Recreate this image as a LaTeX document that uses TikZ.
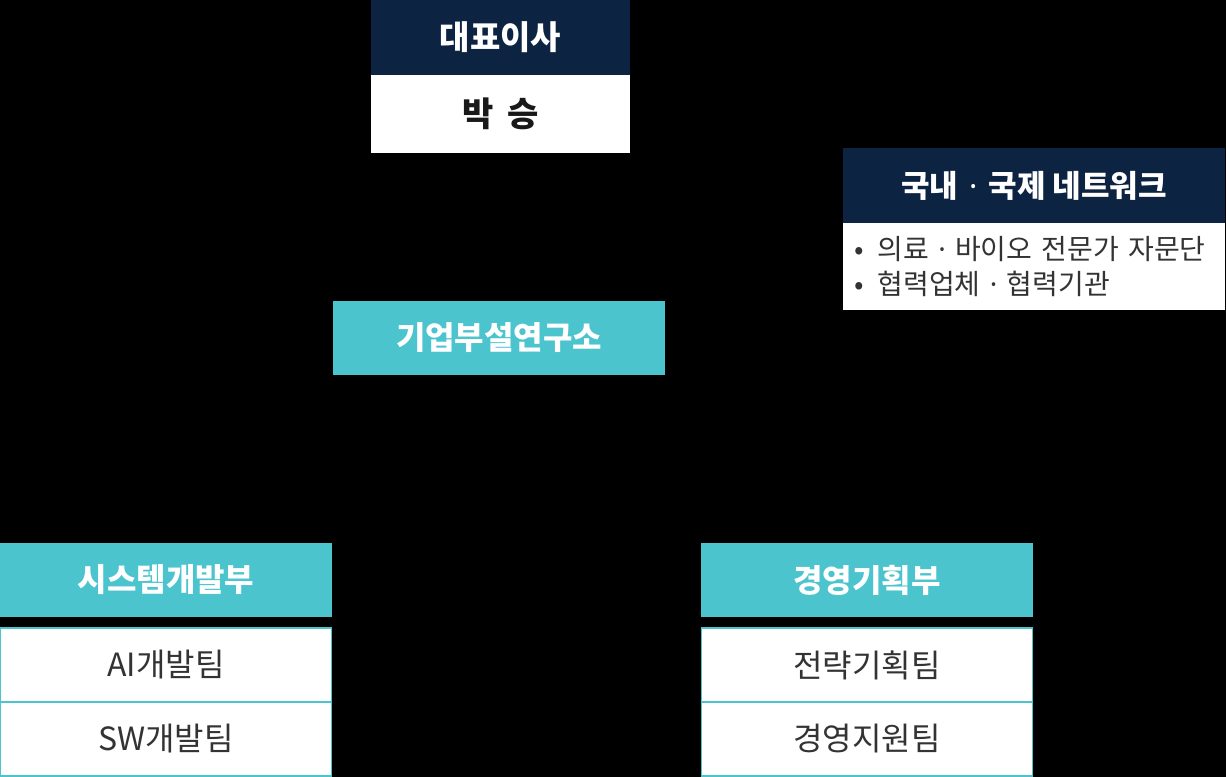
\documentclass[tikz,border=0pt]{standalone}
\usepackage{fontspec}
\setmainfont{Noto Sans CJK KR}
\newfontfamily\latinfont{Noto Sans}
\usepackage{tikz}

\definecolor{navy}{HTML}{0C2442}
\definecolor{teal}{HTML}{4BC4CE}
\definecolor{ink}{HTML}{333333}
\newcommand{\middot}{{\latinfont\textperiodcentered}}

\begin{document}
\begin{tikzpicture}[x=1pt,y=-1pt,
    box/.style={rectangle, inner sep=0pt, outer sep=0pt, minimum height=74pt},
    head/.style={box, fill=navy, text=white, font=\fontsize{33}{38}\selectfont\bfseries},
    dept/.style={box, fill=teal, text=white, font=\fontsize{32}{38}\selectfont\bfseries, minimum width=332pt},
    team/.style={box, fill=white, draw=teal, line width=1.2pt, text=ink, font=\fontsize{32}{38}\selectfont, minimum width=331pt}]
  \fill[black] (0,0) rectangle (1226,777);
  % top
  \node[head, minimum width=259pt, minimum height=75pt] (ceo) at (500.5,37.5) {대표이사};
  \node[box, fill=white, minimum width=259pt, minimum height=78pt, font=\fontsize{34}{38}\selectfont\bfseries, text=black!90] (ceoname) at (500.5,114) {박\hspace{14pt}승};
  % network
  \node[head, minimum width=382pt, minimum height=75pt, font=\fontsize{31}{36}\selectfont\bfseries] (net) at (1034,185.5) {국내\hspace{4pt} \middot{} \hspace{4pt}국제 네트워크};
  \node[box, fill=white, minimum width=382pt, minimum height=87pt, text width=360pt, align=left, text=ink, font=\fontsize{28}{35}\selectfont] (netbody) at (1034,266.5)
    {•\hspace{14pt}의료 \middot{} 바이오 전문가 자문단\\ •\hspace{14pt}협력업체 \middot{} 협력기관};
  % lab
  \node[dept] (lab) at (499,338) {기업부설연구소};
  % departments
  \node[dept] (sys) at (166,580) {시스템개발부};
  \node[team] (ai) at (166,665) {AI개발팀};
  \node[team] (sw) at (166,739) {SW개발팀};
  \node[dept] (mgmt) at (867,580) {경영기획부};
  \node[team] (plan) at (867,665) {전략기획팀};
  \node[team] (supp) at (867,739) {경영지원팀};
\end{tikzpicture}
\end{document}
